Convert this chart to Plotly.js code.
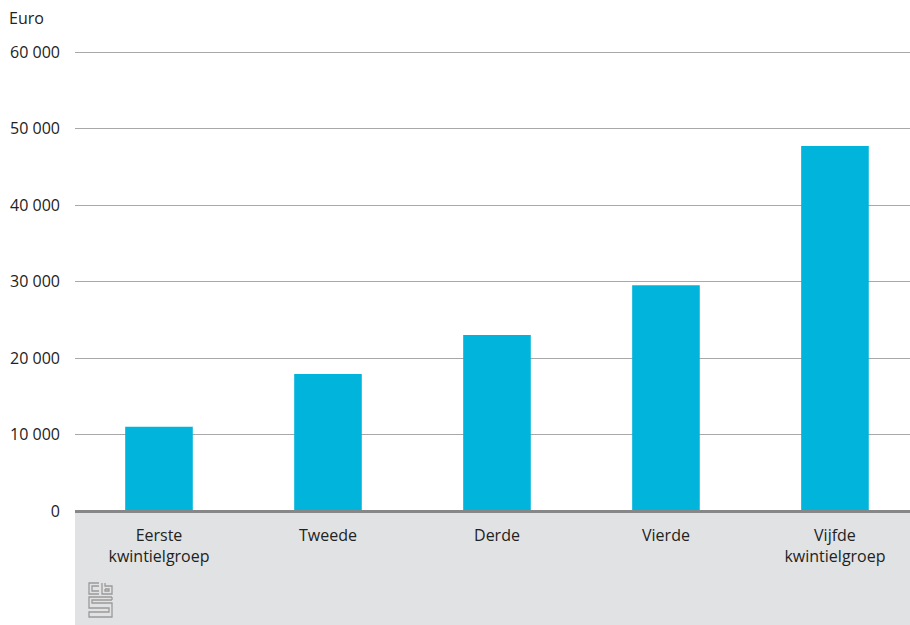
<!DOCTYPE html>
<html>
<head>
<meta charset="utf-8">
<script src="https://cdn.plot.ly/plotly-3.0.1.min.js"></script>
<style>html,body{margin:0;padding:0;background:#fff;}#chart{width:910px;height:625px;}</style>
</head>
<body>
<div id="chart"></div>
<script>
const categories = ["Eerste<br>kwintielgroep", "Tweede", "Derde", "Vierde", "Vijfde<br>kwintielgroep"];
const values = [11000, 17900, 23000, 29500, 47700];
const tickVals = [0, 10000, 20000, 30000, 40000, 50000, 60000];
const tickText = ["0", "10 000", "20 000", "30 000", "40 000", "50 000", "60 000"];

const W = 910, H = 625, L = 75, R = 0, T = 44, B = 114;
const pw = W - L - R, ph = H - T - B;
function px(x) { return (x - L) / pw; }
function py(y) { return (H - B - y) / ph; }
function pathPx(pts) {
  return pts.map((p, i) => (i ? 'L' : 'M') + px(p[0]).toFixed(5) + ',' + py(p[1]).toFixed(5)).join(' ');
}
const logoColor = '#9a9a9a';
const logo = [
  [[99,583],[89,583],[89,594],[99,594]],
  [[99,586],[92,586],[92,591],[99,591]],
  [[102,583],[102,594],[112,594],[112,586],[105,586],[105,583]],
  [[105,589],[109,589],[109,591],[105,591],[105,589]],
  [[112,597],[89,597],[89,608],[109,608],[109,612],[89,612],[89,617],[112,617],[112,603],[92,603],[92,600],[112,600]],
  [[112,600],[112,597]]
];
const shapes = [
  {type:'rect', xref:'paper', yref:'paper', x0:0, x1:1, y0:py(625), y1:0, fillcolor:'#e1e2e4', line:{width:0}, layer:'below'},
  {type:'line', xref:'paper', yref:'paper', x0:0, x1:1, y0:py(511.5), y1:py(511.5), line:{color:'#878787', width:3}}
];
logo.forEach(p => shapes.push({type:'path', xref:'paper', yref:'paper', path:pathPx(p), line:{color:logoColor, width:1.3}}));

const data = [{
  type:'bar', x:[0,1,2,3,4], y:values, width:0.4,
  marker:{color:'#00b4dc', line:{width:0}},
  hoverinfo:'skip'
}];
const layout = {
  width:W, height:H,
  margin:{l:L, r:R, t:T, b:B, pad:0},
  paper_bgcolor:'#ffffff', plot_bgcolor:'#ffffff',
  font:{family:'"Open Sans", "Noto Sans", sans-serif', size:16, color:'#222222'},
  showlegend:false,
  xaxis:{
    range:[-0.497, 4.444], tickvals:[0,1,2,3,4], ticktext:categories,
    showgrid:false, zeroline:false, showline:false, ticks:'',
    tickfont:{size:16, color:'#222222'}, ticklabelstandoff:13, fixedrange:true
  },
  yaxis:{
    range:[0, 61046], tickvals:tickVals, ticktext:tickText,
    showgrid:true, gridcolor:'#a8a8a8', gridwidth:1, zeroline:false, showline:false,
    ticks:'', tickfont:{size:16, color:'#222222'}, ticklabelstandoff:14, fixedrange:true
  },
  shapes:shapes,
  annotations:[{
    text:'Euro', xref:'paper', yref:'paper', x:px(7), y:py(18), xanchor:'left', yanchor:'middle',
    showarrow:false, font:{size:16, color:'#222222'}
  }]
};
Plotly.newPlot('chart', data, layout, {displayModeBar:false, staticPlot:true});
</script>
</body>
</html>
